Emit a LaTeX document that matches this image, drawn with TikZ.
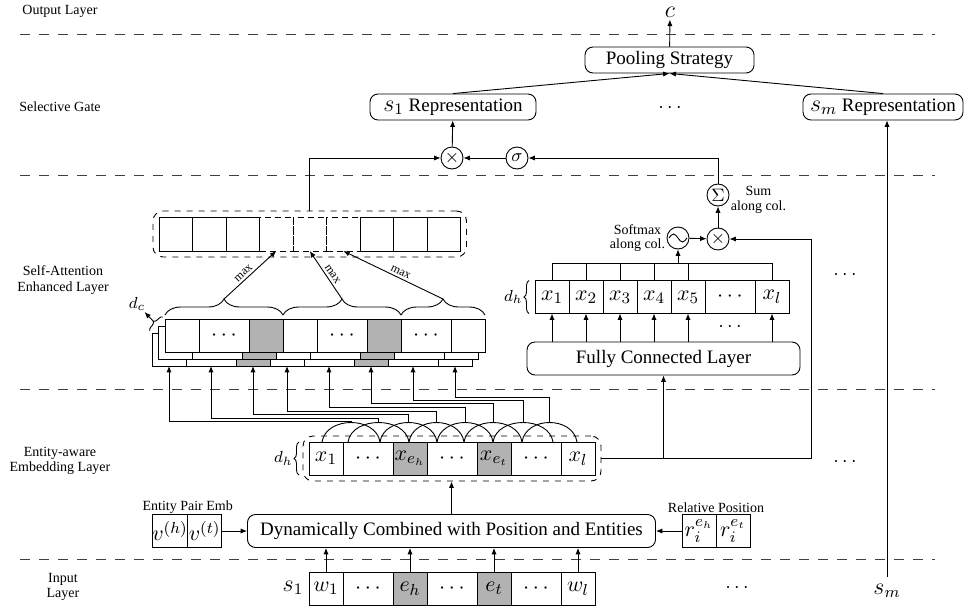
\documentclass[tikz,border=0pt]{standalone}
\usepackage{fontspec}
\setmainfont{Liberation Serif}
\usetikzlibrary{positioning,calc,fit,decorations.pathreplacing,arrows.meta}

\tikzset{
  arr/.style={-{Latex[length=3.2pt,width=2.6pt]}},
  sepline/.style={dash pattern=on 5pt off 4.5pt, black!75},
  lyr/.style={font=\fontsize{7}{7.6}\selectfont, align=center},
  notelbl/.style={font=\fontsize{7}{7.2}\selectfont, align=center, inner sep=0.5pt},
  cell/.style={draw, minimum width=17pt, minimum height=16.5pt, inner sep=0pt, outer sep=0pt, font=\fontsize{11}{11}\selectfont},
  wcell/.style={minimum width=25pt},
  ent/.style={fill=black!30},
  dcell/.style={densely dashed},
  rbox/.style={draw, rounded corners=4pt, minimum height=13pt, inner sep=1pt, font=\fontsize{9.5}{10}\selectfont},
  opcirc/.style={draw, circle, minimum size=11pt, inner sep=0pt, font=\fontsize{9}{9}\selectfont},
  grp/.style={draw, dashed, rounded corners=5pt, inner sep=3pt},
  maxlbl/.style={font=\fontsize{6}{6}\selectfont, inner sep=0.3pt},
  bigmath/.style={font=\fontsize{12}{12}\selectfont},
  dimlbl/.style={font=\fontsize{8}{8}\selectfont, inner sep=0.5pt},
}

\begin{document}
\begin{tikzpicture}[x=0.5pt, y=-0.5pt, line width=0.45pt]
\useasboundingbox (0,0) rectangle (968,605);

\foreach \y in {34,175,389,559}
  \draw[sepline] (20,\y) -- (935,\y);
\node[lyr] (tout) at (60,11) {Output Layer};
\node[lyr] (tsel) at (60,107) {Selective Gate};
\node[lyr] (tatt) at (63,280) {Self-Attention\\Enhanced Layer};
\node[lyr] (temb) at (60,461) {Entity-aware\\Embedding Layer};
\node[lyr] (tin) at (63,587) {Input\\Layer};

% input layer
\node[bigmath] (s1) at (293,588) {$s_1$};
\node[cell] (w1) at (326,588.5) {$w_1$};
\node[cell, wcell, right=0pt of w1] (wd1) {$\cdots$};
\node[cell, ent, right=0pt of wd1] (weh) {$e_h$};
\node[cell, wcell, right=0pt of weh] (wd2) {$\cdots$};
\node[cell, ent, right=0pt of wd2] (wet) {$e_t$};
\node[cell, wcell, right=0pt of wet] (wd3) {$\cdots$};
\node[cell, right=0pt of wd3] (wl) {$w_l$};
\node (idots) at (737,588) {$\cdots$};
\node[bigmath] (sm) at (887,591) {$s_m$};

% embedding layer
\node[rbox, minimum width=204pt, minimum height=16.5pt] (dyn) at (451.5,531) {Dynamically Combined with Position and Entities};
\node[cell] (vh) at (170,531) {$v^{(h)}$};
\node[cell, right=0pt of vh] (vt) {$v^{(t)}$};
\node[notelbl, anchor=south] (tpair) at (vh.north east) {Entity Pair Emb};
\node[cell] (reh) at (699,531) {$r_i^{e_h}$};
\node[cell, right=0pt of reh] (ret) {$r_i^{e_t}$};
\node[notelbl, anchor=south] (trel) at (reh.north east) {Relative Position};
\draw[arr] (vt) -- (dyn);
\draw[arr] (reh) -- (dyn);
\foreach \w in {w1,weh,wet,wl}
  \draw[arr] (\w) -- (\w |- dyn.south);

\node[cell] (x1) at (326,458.5) {$x_1$};
\node[cell, wcell, right=0pt of x1] (xd1) {$\cdots$};
\node[cell, ent, right=0pt of xd1] (xeh) {$x_{e_h}$};
\node[cell, wcell, right=0pt of xeh] (xd2) {$\cdots$};
\node[cell, ent, right=0pt of xd2] (xet) {$x_{e_t}$};
\node[cell, wcell, right=0pt of xet] (xd3) {$\cdots$};
\node[cell, right=0pt of xd3] (xl) {$x_l$};
\node[grp, fit=(x1)(xl)] (emb) {};
\draw[decorate, decoration={brace, amplitude=2.5pt}] ([xshift=-5pt]x1.south west) -- ([xshift=-5pt]x1.north west) node[midway, left=2.5pt, dimlbl] (dh1) {$d_h$};
\draw[arr] (dyn.north) -- (dyn.north |- emb.south);
\node (edots) at (845,462) {$\cdots$};

% windows over the embeddings
\foreach \a/\b [count=\k] in {322/380, 348/409, 380/437, 409/464, 437/493, 464/522, 493/553, 522/577}{
  \draw (\a,442) .. controls (\a+4,416) and (\b-4,416) .. (\b,442);
  \coordinate (pk\k) at ({(\a+\b)/2},422.5);
}

% convolution layers
\foreach \l/\dx/\dy in {3/-13/14, 2/-6.5/7, 1/0/0}{
  \node[cell, fill=white] (c\l-1) at ({182+(\dx)},{335.5+(\dy)}) {};
  \node[cell, wcell, fill=white, right=0pt of c\l-1] (c\l-2) {\ifnum\l=1 $\cdots$\fi};
  \node[cell, ent, right=0pt of c\l-2] (c\l-3) {};
  \node[cell, fill=white, right=0pt of c\l-3] (c\l-4) {};
  \node[cell, wcell, fill=white, right=0pt of c\l-4] (c\l-5) {\ifnum\l=1 $\cdots$\fi};
  \node[cell, ent, right=0pt of c\l-5] (c\l-6) {};
  \node[cell, wcell, fill=white, right=0pt of c\l-6] (c\l-7) {\ifnum\l=1 $\cdots$\fi};
  \node[cell, fill=white, right=0pt of c\l-7] (c\l-8) {};
}
\foreach \k/\y in {1/421, 2/418, 3/414, 4/411, 5/407, 6/403, 7/400, 8/397}
  \draw[arr] (pk\k) -- (pk\k |- 0,\y) -| (c3-\k.south);

\draw[decorate, decoration={brace, amplitude=2pt, raise=1.5pt}] (c3-1.north west) -- (c1-1.north west);
\coordinate (dct) at ($(c3-1.north west)!0.5!(c1-1.north west)+(-2.6pt,2.4pt)$);
\node[dimlbl] (dc) at (137,304) {$d_c$};
\draw[arr] (dct) -- (dc);

\draw[decorate, decoration={brace, amplitude=8pt, raise=2pt}] (c1-1.north west) -- (c1-3.north east);
\draw[decorate, decoration={brace, amplitude=8pt, raise=2pt}] (c1-4.north west) -- (c1-6.north east);
\draw[decorate, decoration={brace, amplitude=8pt, raise=2pt}] (c1-7.north west) -- (c1-8.north east);
\coordinate (t1) at ($(c1-1.north west)!0.5!(c1-3.north east)+(0,10pt)$);
\coordinate (t2) at ($(c1-4.north west)!0.5!(c1-6.north east)+(0,10pt)$);
\coordinate (t3) at ($(c1-7.north west)!0.5!(c1-8.north east)+(0,10pt)$);

% max pooled vector
\node[cell, minimum width=16.75pt, minimum height=17pt] (mp1) at (175.75,234) {};
\foreach \i [remember=\i as \j (initially 1)] in {2,...,9}{
  \ifnum\i>3 \ifnum\i<7
    \node[cell, dcell, minimum width=16.75pt, minimum height=17pt, right=0pt of mp\j] (mp\i) {};
  \else
    \node[cell, minimum width=16.75pt, minimum height=17pt, right=0pt of mp\j] (mp\i) {};
  \fi \else
    \node[cell, minimum width=16.75pt, minimum height=17pt, right=0pt of mp\j] (mp\i) {};
  \fi
}
\node[grp, fit=(mp1)(mp9)] (mpool) {};
\draw[arr] (t1) -- (mp4.south) node[pos=0.45, sloped, above=1pt, maxlbl] {max};
\draw[arr] (t2) -- (mp5.south) node[pos=0.45, sloped, above=1pt, maxlbl] {max};
\draw[arr] (t3) -- (mp6.south) node[pos=0.45, sloped, above=1pt, maxlbl] {max};

% attention branch
\node[rbox, minimum width=136.5pt, minimum height=16.5pt] (fc) at (663.5,358.5) {Fully Connected Layer};
\node[cell] (f1) at (552,297) {$x_1$};
\node[cell, right=0pt of f1] (f2) {$x_2$};
\node[cell, right=0pt of f2] (f3) {$x_3$};
\node[cell, right=0pt of f3] (f4) {$x_4$};
\node[cell, right=0pt of f4] (f5) {$x_5$};
\node[cell, wcell, right=0pt of f5] (fd) {$\cdots$};
\node[cell, right=0pt of fd] (fl) {$x_l$};
\draw[decorate, decoration={brace, amplitude=2.5pt}] ([xshift=-3pt]f1.south west) -- ([xshift=-3pt]f1.north west) node[midway, left=2.5pt, dimlbl] (dh2) {$d_h$};
\foreach \c in {f1,f2,f3,f4,f5,fl}
  \draw[arr] (\c.south |- fc.north) -- (\c.south);
\node (fdots) at ($(fd.south)!0.5!(fd.south |- fc.north)$) {$\cdots$};
\coordinate (bus) at (678,263);
\foreach \c in {f1,f2,f3,f4,f5,fl}
  \draw (\c.north) -- (\c.north |- bus);
\draw (f1.north |- bus) -- (fl.north |- bus);
\draw[arr] (fc.south |- emb.east) -- (fc.south);

\node[opcirc] (soft) at (678,238) {};
\draw (soft.center) ++(-4.5pt,0pt) sin ++(2.25pt,2pt) cos ++(2.25pt,-2pt) sin ++(2.25pt,-2pt) cos ++(2.25pt,2pt);
\node[notelbl, left=0pt of soft] (tsoft) {Softmax\\along col.};
\node[opcirc] (mul2) at (718,239) {$\times$};
\node[opcirc] (sum) at (718,195) {$\Sigma$};
\node[notelbl, anchor=west] (tsum) at ([yshift=-2.5pt]sum.east) {Sum\\along col.};
\draw[arr] (soft.south |- bus) -- (soft.south);
\draw[arr] (soft) -- (mul2);
\draw[arr] (mul2) -- (sum);
\coordinate (rt) at (811,458.5);
\draw[arr] (emb.east) -- (rt) |- (mul2.east);
\node (adots) at (845,275) {$\cdots$};

% selective gate
\node[opcirc] (gmul) at (452,158) {$\times$};
\node[opcirc] (sig) at (517,158) {$\sigma$};
\draw[arr] (sum.north) |- (sig.east);
\draw[arr] (sig) -- (gmul);
\draw[arr] (mpool.north) |- (gmul.west);
\node[rbox, minimum width=83pt] (s1rep) at (453,107) {{\fontsize{12}{12}\selectfont$s_1$} Representation};
\node[rbox, minimum width=80pt] (smrep) at (883,107) {{\fontsize{12}{12}\selectfont$s_m$} Representation};
\node (gdots) at (670,108) {$\cdots$};
\draw[arr] (gmul) -- (s1rep);
\draw[arr] (sm) -- (sm |- smrep.south);

% output
\node[rbox, minimum width=84.5pt] (pool) at (669.5,60) {Pooling Strategy};
\draw[arr] (s1rep.north) -- (pool.south);
\draw[arr] (smrep.north) -- (pool.south);
\node[bigmath, inner sep=1pt] (c) at (670,12) {$c$};
\draw[arr] (pool) -- (c);
\end{tikzpicture}
\end{document}
